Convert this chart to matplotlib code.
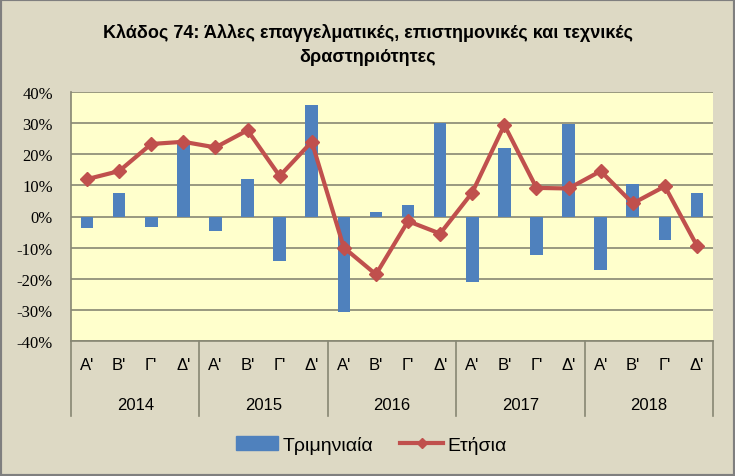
import numpy as np
import matplotlib
matplotlib.use('Agg')
import matplotlib.pyplot as plt
from matplotlib.patches import Rectangle
from matplotlib.lines import Line2D
from matplotlib.patches import Patch

years = ['2014', '2015', '2016', '2017', '2018']
quarters = ["Α'", "Β'", "Γ'", "Δ'"]
yticks = [-40, -30, -20, -10, 0, 10, 20, 30, 40]

# quarterly change (bars), annual change (line)
triminiaia = [-3.7, 7.4, -3.5, 23.5, -4.8, 12.0, -14.2, 35.8, -30.8, 1.3,
              3.6, 30.2, -21.0, 21.9, -12.4, 29.6, -17.2, 10.6, -7.6, 7.4]
etisia = [12.0, 14.6, 23.3, 24.0, 22.2, 27.7, 13.0, 24.0, -10.0, -18.6,
          -1.5, -5.5, 7.7, 29.4, 9.2, 9.0, 14.6, 4.2, 9.7, -9.4]

bg = '#DDD9C4'
bar_c = '#4F81BD'
line_c = '#C0504D'
grid_c = '#878773'
narrow = ['Liberation Sans Narrow', 'Liberation Sans', 'DejaVu Sans']

fig = plt.figure(figsize=(7.35, 4.77), dpi=100, facecolor=bg)
ax = fig.add_axes([71/735, 1-342/477, 642/735, 249/477])
ax.set_facecolor('#FFFFCC')

x = np.arange(len(triminiaia))
ax.bar(x, triminiaia, width=0.39, color=bar_c, zorder=2)
ax.plot(x, etisia, color=line_c, lw=3, marker='D', ms=7, zorder=3)

ax.set_xlim(-0.5, len(x)-0.5)
ax.set_ylim(-40, 40)
ax.set_yticks(yticks)
ax.set_yticklabels([f'{v}%' for v in yticks],
                   family=['Liberation Serif', 'DejaVu Serif'], fontsize=12)
ax.tick_params(axis='y', length=0, pad=13)
ax.set_xticks([])
ax.yaxis.grid(True, color=grid_c, lw=1.2, zorder=1)
ax.set_axisbelow(True)
for s in ['right', 'top']:
    ax.spines[s].set_visible(False)
for s in ['left', 'bottom']:
    ax.spines[s].set_color(grid_c)
    ax.spines[s].set_linewidth(1.2)

# category labels
trans = ax.get_xaxis_transform()
for i in x:
    ax.text(i, -0.093, quarters[i % 4], transform=trans, ha='center',
            va='center', fontsize=12, family=narrow)
for j, yr in enumerate(years):
    ax.text(j*4+1.5, -0.255, yr, transform=trans, ha='center', va='center',
            fontsize=12, family=narrow)
for b in range(len(years)+1):
    ax.plot([b*4-0.5, b*4-0.5], [0, -0.3], transform=trans, color=grid_c,
            lw=1.2, clip_on=False)

fig.text(368/735, 1-33/477, 'Κλάδος 74: Άλλες επαγγελματικές, επιστημονικές και τεχνικές',
         ha='center', va='center', fontsize=13, fontweight='bold', family=narrow)
fig.text(368/735, 1-57/477, 'δραστηριότητες', ha='center', va='center',
         fontsize=13, fontweight='bold', family=narrow)

handles = [Patch(color=bar_c, label='Τριμηνιαία'),
           Line2D([], [], color=line_c, lw=3, marker='D', ms=5, label='Ετήσια')]
fig.legend(handles=handles, loc='center', bbox_to_anchor=(371/735, 1-446/477),
           ncol=2, frameon=False, prop={'family': narrow, 'size': 14},
           handlelength=2.2, handletextpad=0.2, columnspacing=1.4)

fig.patches.append(Rectangle((0, 0), 1, 1, transform=fig.transFigure,
                             fill=False, edgecolor='#7F7F7F', lw=3))

fig.savefig('out.png', dpi=100, facecolor=bg)
